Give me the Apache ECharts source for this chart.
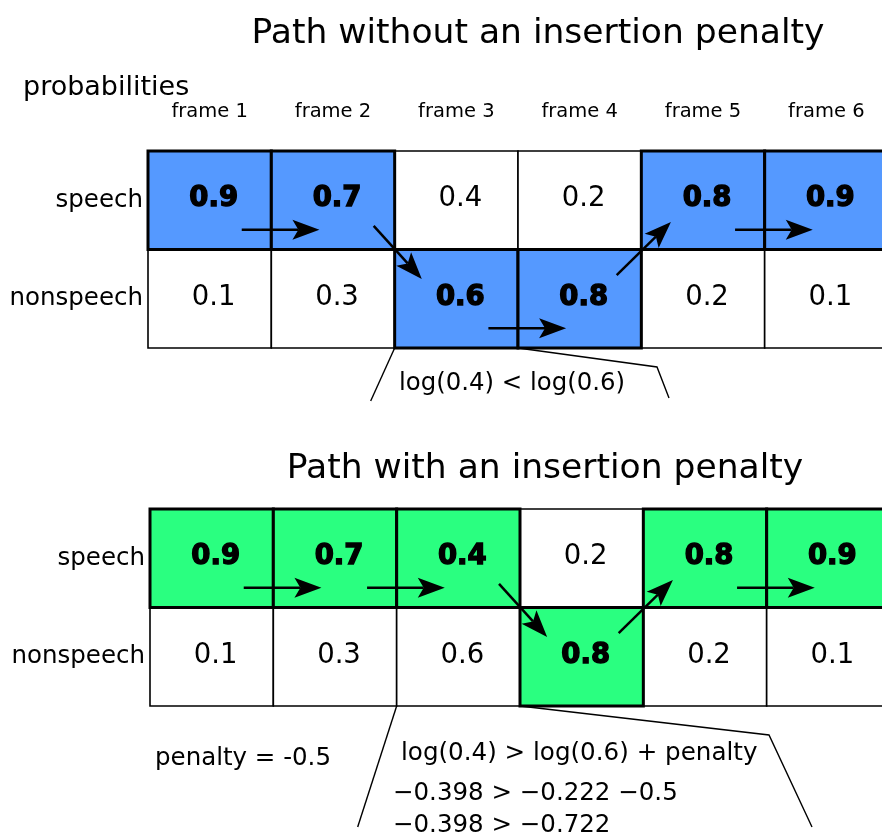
<!DOCTYPE html>
<html>
<head>
<meta charset="utf-8">
<script src="https://cdn.jsdelivr.net/npm/echarts@6/dist/echarts.min.js"></script>
<style>
  html, body { margin: 0; padding: 0; background: #fff; }
  #chart { width: 882px; height: 834px; }
</style>
</head>
<body>
<div id="chart"></div>
<script>
// data
const frames = ['frame 1', 'frame 2', 'frame 3', 'frame 4', 'frame 5', 'frame 6'];
const states = ['speech', 'nonspeech'];
const speechProb = [0.9, 0.7, 0.4, 0.2, 0.8, 0.9];
const nonspeechProb = [0.1, 0.3, 0.6, 0.8, 0.2, 0.1];
// chosen state per frame (0 = speech, 1 = nonspeech)
const pathNoPenalty = [0, 0, 1, 1, 0, 0];
const pathWithPenalty = [0, 0, 0, 1, 0, 0];
const decisionFrame = 2;
const noteNoPenalty = ['log(0.4) < log(0.6)'];
const noteWithPenalty = ['log(0.4) > log(0.6) + penalty', '\u22120.398 > \u22120.222 \u22120.5', '\u22120.398 > \u22120.722'];
const penaltyLabel = 'penalty = -0.5';

const FONT = 'DejaVu Sans';
const BLUE = '#5599ff';
const GREEN = '#2aff80';

const chart = echarts.init(document.getElementById('chart'));

function cellSeries(gi, path, color) {
  const data = [];
  frames.forEach((f, i) => {
    [speechProb[i], nonspeechProb[i]].forEach((v, s) => {
      data.push([i, s, v, path[i] === s ? 1 : 0]);
    });
  });
  return {
    type: 'custom',
    xAxisIndex: gi,
    yAxisIndex: gi,
    silent: true,
    data: data,
    renderItem(params, api) {
      const c = api.coord([api.value(0), api.value(1)]);
      const sz = api.size([1, 1]);
      const on = api.value(3) === 1;
      return {
        type: 'group',
        children: [
          {
            type: 'rect',
            z2: on ? 2 : 1,
            shape: { x: c[0] - sz[0] / 2, y: c[1] - sz[1] / 2, width: sz[0], height: sz[1] },
            style: { fill: on ? color : '#fff', stroke: '#000', lineWidth: on ? 3 : 1.6 }
          },
          {
            type: 'text',
            z2: 5,
            x: c[0] + 4,
            y: c[1] - 1,
            style: {
              text: api.value(2).toFixed(1),
              fontFamily: FONT,
              fontSize: 27.5,
              fontWeight: on ? 'bold' : 'normal',
              fill: '#000',
              stroke: on ? '#000' : null,
              lineWidth: on ? 1.4 : 0,
              align: 'center',
              verticalAlign: 'middle'
            }
          }
        ]
      };
    }
  };
}

function arrowSeries(gi, path) {
  const data = [];
  for (let i = 0; i + 1 < path.length; i++) data.push([i, path[i], i + 1, path[i + 1]]);
  return {
    type: 'custom',
    xAxisIndex: gi,
    yAxisIndex: gi,
    silent: true,
    data: data,
    renderItem(params, api) {
      const a = api.coord([api.value(0), api.value(1)]);
      const b = api.coord([api.value(2), api.value(3)]);
      const sz = api.size([1, 1]);
      const w = sz[0], h = sz[1];
      const ds = api.value(3) - api.value(1);
      let p0, p1;
      if (ds === 0) {
        p0 = [a[0] + 0.26 * w, a[1] + 0.3 * h];
        p1 = [b[0] - 0.11 * w, b[1] + 0.3 * h];
      } else if (ds > 0) {
        p0 = [a[0] + 0.33 * w, a[1] + 0.26 * h];
        p1 = [b[0] - 0.28 * w, b[1] - 0.2 * h];
      } else {
        p0 = [a[0] + 0.3 * w, a[1] - 0.24 * h];
        p1 = [b[0] - 0.26 * w, b[1] + 0.22 * h];
      }
      const dx = p1[0] - p0[0], dy = p1[1] - p0[1];
      const len = Math.sqrt(dx * dx + dy * dy);
      const ux = dx / len, uy = dy / len;
      const nx = -uy, ny = ux;
      const L = 27, W = 10;
      const back = [p1[0] - L * ux, p1[1] - L * uy];
      const notch = [p1[0] - 0.78 * L * ux, p1[1] - 0.78 * L * uy];
      return {
        type: 'group',
        children: [
          {
            type: 'line',
            z2: 6,
            shape: { x1: p0[0], y1: p0[1], x2: notch[0], y2: notch[1] },
            style: { stroke: '#000', lineWidth: 2.5 }
          },
          {
            type: 'polygon',
            z2: 6,
            shape: { points: [p1, [back[0] + W * nx, back[1] + W * ny], notch, [back[0] - W * nx, back[1] - W * ny]] },
            style: { fill: '#000' }
          }
        ]
      };
    }
  };
}

function calloutSeries(gi, leftEnd, kink, rightEnd) {
  return {
    type: 'custom',
    xAxisIndex: gi,
    yAxisIndex: gi,
    silent: true,
    data: [[decisionFrame, 1]],
    renderItem(params, api) {
      const c = api.coord([api.value(0), api.value(1)]);
      const sz = api.size([1, 1]);
      const bl = [c[0] - sz[0] / 2, c[1] + sz[1] / 2];
      const br = [c[0] + sz[0] / 2, c[1] + sz[1] / 2];
      return {
        type: 'group',
        children: [
          {
            type: 'polyline',
            shape: { points: [bl, [bl[0] + leftEnd[0], bl[1] + leftEnd[1]]] },
            style: { stroke: '#000', lineWidth: 1.4, fill: null }
          },
          {
            type: 'polyline',
            shape: { points: [br, [br[0] + kink[0], br[1] + kink[1]], [br[0] + rightEnd[0], br[1] + rightEnd[1]]] },
            style: { stroke: '#000', lineWidth: 1.4, fill: null }
          }
        ]
      };
    }
  };
}

function xAxisFor(gi, showLabels) {
  return {
    type: 'category',
    gridIndex: gi,
    data: frames,
    position: 'top',
    axisLine: { show: false },
    axisTick: { show: false },
    splitLine: { show: false },
    axisLabel: { show: showLabels, color: '#000', fontFamily: FONT, fontSize: 19.5, margin: 29 }
  };
}

function yAxisFor(gi) {
  return {
    type: 'category',
    gridIndex: gi,
    data: states,
    inverse: true,
    axisLine: { show: false },
    axisTick: { show: false },
    splitLine: { show: false },
    axisLabel: { color: '#000', fontFamily: FONT, fontSize: 24.5, margin: 5 }
  };
}

const titleText = (text, left, top, size, align) => ({
  text: text,
  left: left,
  top: top,
  textAlign: align || 'left',
  padding: 0,
  textStyle: { color: '#000', fontFamily: FONT, fontSize: size, fontWeight: 'normal' }
});

const option = {
  animation: false,
  textStyle: { fontFamily: FONT },
  title: [
    titleText('Path without an insertion penalty', 538, 17, 34.5, 'center'),
    titleText('probabilities', 23, 74, 27),
    titleText('Path with an insertion penalty', 545, 452, 34.5, 'center'),
    titleText(noteNoPenalty[0], 399, 372, 24.4),
    titleText(penaltyLabel, 155, 746, 24.5),
    titleText(noteWithPenalty[0], 401, 741, 24.6),
    titleText(noteWithPenalty[1], 393, 781, 24.5),
    titleText(noteWithPenalty[2], 393, 813, 24.5)
  ],
  grid: [
    { left: 148, top: 151, width: 740, height: 197, outerBoundsMode: 'none', containLabel: false },
    { left: 150, top: 509, width: 740, height: 197, outerBoundsMode: 'none', containLabel: false }
  ],
  xAxis: [xAxisFor(0, true), xAxisFor(1, false)],
  yAxis: [yAxisFor(0), yAxisFor(1)],
  series: [
    cellSeries(0, pathNoPenalty, BLUE),
    arrowSeries(0, pathNoPenalty),
    calloutSeries(0, [-24, 53], [139, 19], [151, 50]),
    cellSeries(1, pathWithPenalty, GREEN),
    arrowSeries(1, pathWithPenalty),
    calloutSeries(1, [-39, 121], [249, 29], [292, 121])
  ]
};

chart.setOption(option);
</script>
</body>
</html>
